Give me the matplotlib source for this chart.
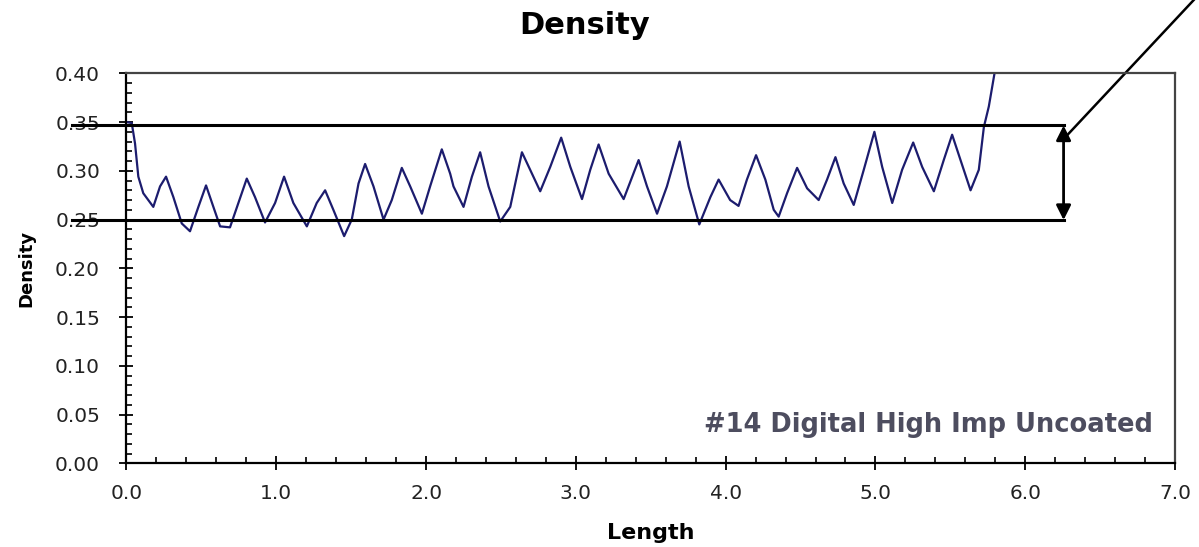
import numpy as np
import matplotlib
matplotlib.use("Agg")
import matplotlib.pyplot as plt
from matplotlib.ticker import MultipleLocator, FormatStrFormatter

# density profile (length, density)
length = [0.0, 0.035, 0.057, 0.079, 0.112, 0.179, 0.224, 0.264, 0.313,
          0.369, 0.424, 0.48, 0.531, 0.58, 0.625, 0.691, 0.747, 0.803,
          0.858, 0.925, 0.992, 1.052, 1.114, 1.204, 1.27, 1.326, 1.381,
          1.453, 1.504, 1.549, 1.593, 1.649, 1.716, 1.771, 1.838, 1.894,
          1.972, 2.027, 2.105, 2.161, 2.183, 2.25, 2.306, 2.361, 2.417,
          2.495, 2.562, 2.64, 2.695, 2.762, 2.829, 2.902, 2.963, 3.041,
          3.096, 3.152, 3.219, 3.319, 3.419, 3.475, 3.542, 3.608, 3.693,
          3.753, 3.824, 3.898, 3.953, 4.03, 4.086, 4.142, 4.203, 4.265,
          4.321, 4.354, 4.41, 4.477, 4.544, 4.621, 4.677, 4.733, 4.788,
          4.855, 4.922, 4.993, 5.045, 5.112, 5.178, 5.252, 5.312, 5.39,
          5.456, 5.512, 5.568, 5.635, 5.69, 5.724, 5.757, 5.795, 5.83]
density = [0.350, 0.349, 0.328, 0.294, 0.277, 0.263, 0.284, 0.294, 0.273,
           0.246, 0.238, 0.263, 0.285, 0.263, 0.243, 0.242, 0.267, 0.292,
           0.273, 0.247, 0.267, 0.294, 0.267, 0.243, 0.267, 0.280, 0.260,
           0.233, 0.250, 0.287, 0.307, 0.284, 0.250, 0.270, 0.303, 0.284,
           0.256, 0.284, 0.322, 0.297, 0.284, 0.263, 0.294, 0.319, 0.284,
           0.248, 0.263, 0.319, 0.301, 0.279, 0.304, 0.334, 0.304, 0.271,
           0.301, 0.327, 0.297, 0.271, 0.311, 0.284, 0.256, 0.284, 0.330,
           0.284, 0.245, 0.273, 0.291, 0.270, 0.264, 0.291, 0.316, 0.291,
           0.260, 0.253, 0.277, 0.303, 0.282, 0.270, 0.291, 0.314, 0.287,
           0.265, 0.301, 0.340, 0.304, 0.267, 0.301, 0.329, 0.304, 0.279,
           0.311, 0.337, 0.311, 0.280, 0.301, 0.345, 0.366, 0.400, 0.430]

band_low, band_high = 0.2495, 0.3465
sample_name = "#14 Digital High Imp Uncoated"

plt.rcParams['font.family'] = ['DejaVu Sans']

fig = plt.figure(figsize=(11.99, 5.47), dpi=100)
ax = fig.add_axes([0.1055, 0.153, 0.8745, 0.713])

ax.plot(length, density, color='#1c1c6e', lw=1.6)

ax.set_xlim(0, 7)
ax.set_ylim(0, 0.40)
ax.xaxis.set_major_locator(MultipleLocator(1.0))
ax.xaxis.set_minor_locator(MultipleLocator(0.2))
ax.yaxis.set_major_locator(MultipleLocator(0.05))
ax.yaxis.set_minor_locator(MultipleLocator(0.01))
ax.xaxis.set_major_formatter(FormatStrFormatter('%.1f'))
ax.yaxis.set_major_formatter(FormatStrFormatter('%.2f'))
ax.tick_params(which='major', direction='inout', length=10, width=1.3,
               labelsize=14.5, colors='black', labelcolor='#222222')
ax.tick_params(axis='y', which='major', pad=14)
ax.tick_params(axis='x', which='major', pad=10)
ax.tick_params(which='minor', direction='in', length=4, width=1.2)

for s in ['left', 'bottom']:
    ax.spines[s].set_linewidth(1.6)
    ax.spines[s].set_color('black')
for s in ['top', 'right']:
    ax.spines[s].set_linewidth(1.6)
    ax.spines[s].set_color('#444444')

fig.text(0.488, 0.954, "Density", ha='center', va='center',
         fontsize=22, fontweight='bold')
ax.set_xlabel("Length", fontsize=16, fontweight='bold', labelpad=14)
ax.set_ylabel("Density", fontsize=13, fontweight='bold', labelpad=14)

ax.text(0.979, 0.098, sample_name, transform=ax.transAxes, ha='right',
        va='center', fontsize=18.5, fontweight='bold', color='#4d4d5f')

# tolerance band drawn over the chart
x0, x1 = -0.364, 6.256
for yv in (band_low, band_high):
    ax.plot([x0, x1], [yv, yv], color='black', lw=2.2, clip_on=False)
ax.annotate('', xy=(x1, band_high), xytext=(x1, band_low),
            arrowprops=dict(arrowstyle='<|-|>', color='black', lw=2,
                            mutation_scale=22, shrinkA=0, shrinkB=0),
            annotation_clip=False)
ax.plot([6.283, 7.124], [0.337, 0.475], color='black', lw=1.8,
        clip_on=False)

fig.savefig("out.png", dpi=100, facecolor='white')
